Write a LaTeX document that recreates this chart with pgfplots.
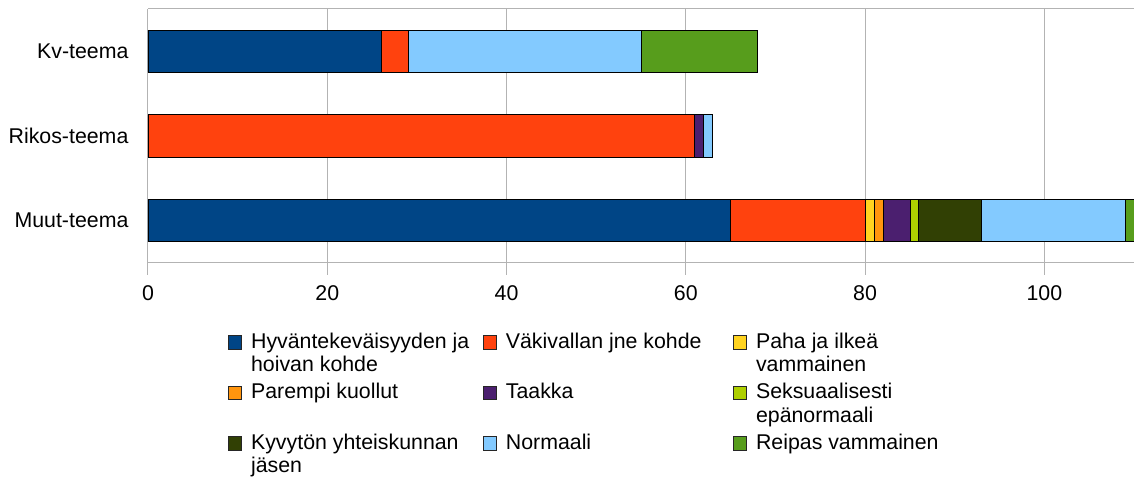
\documentclass[border=0pt]{standalone}
\usepackage{fontspec}
\setmainfont{Liberation Sans}
\usepackage{pgfplots}
\pgfplotsset{compat=1.18}
\definecolor{c1}{HTML}{004586}
\definecolor{c2}{HTML}{FF420E}
\definecolor{c3}{HTML}{FFD320}
\definecolor{c4}{HTML}{FF950E}
\definecolor{c5}{HTML}{4B1F6F}
\definecolor{c6}{HTML}{AECF00}
\definecolor{c7}{HTML}{314004}
\definecolor{c8}{HTML}{83CAFF}
\definecolor{c9}{HTML}{579D1C}
\definecolor{gridc}{HTML}{B3B3B3}
\newcommand{\lt}[2]{\parbox[t]{#1}{\raggedright #2}}
\begin{document}
\begin{tikzpicture}[font=\fontsize{16pt}{15.75pt}\selectfont]
\begin{axis}[
  scale only axis,
  width=739.5pt, height=190.5pt,
  xbar stacked,
  bar width=0.5,
  xmin=0, xmax=110,
  ymin=-0.5, ymax=2.5,
  axis lines*=left,
  axis line style={draw=gridc, line width=0.75pt},
  xtick={0,20,40,60,80,100},
  xmajorgrids,
  grid style={draw=gridc, line width=0.75pt},
  x tick style={draw=gridc, line width=0.75pt},
  tick align=outside,
  major tick length=9pt,
  ytick={0,1,2},
  yticklabels={Muut-teema,Rikos-teema,Kv-teema},
  y tick style={draw=none},
  extra y ticks={-0.5,0.5,1.5,2.5},
  extra y tick labels={},
  extra y tick style={draw=gridc, line width=0.75pt, grid=none, major tick length=8pt},
  /pgf/number format/assume math mode=true,
  xticklabel style={inner sep=0pt, anchor=north, yshift=-7.5pt},
  yticklabel style={inner sep=0pt, anchor=east, xshift=-5.5pt},
  every axis plot/.append style={draw=black, line width=0.6pt},
  legend columns=3,
  legend cell align=left,
  legend style={at={(rel axis cs:0.0811,-0.2757)}, anchor=north west, draw=none, fill=none,
    inner sep=0pt, outer sep=0pt, nodes={inner sep=0pt, text depth=}, cells={anchor=base west},
    column sep=6.75pt, row sep=4.2pt},
  legend image code/.code={\draw[#1, draw=black!85, line width=0.6pt] (0pt,-0.5pt) rectangle (10pt,9.5pt);},
]
\addplot[fill=c1] coordinates {(65,0) (0,1) (26,2)};
\addplot[fill=c2] coordinates {(15,0) (61,1) (3,2)};
\addplot[fill=c3] coordinates {(1,0) (0,1) (0,2)};
\addplot[fill=c4] coordinates {(1,0) (0,1) (0,2)};
\addplot[fill=c5] coordinates {(3,0) (1,1) (0,2)};
\addplot[fill=c6] coordinates {(1,0) (0,1) (0,2)};
\addplot[fill=c7] coordinates {(7,0) (0,1) (0,2)};
\addplot[fill=c8] coordinates {(16,0) (1,1) (26,2)};
\addplot[fill=c9] coordinates {(1,0) (0,1) (13,2)};
\addlegendentry{\lt{167pt}{\strut Hyväntekeväisyyden ja\\\strut hoivan kohde}}
\addlegendentry{\lt{163.5pt}{\strut Väkivallan jne kohde}}
\addlegendentry{\lt{150pt}{\strut Paha ja ilkeä\\\strut vammainen}}
\addlegendentry{\lt{167pt}{\strut Parempi kuollut}}
\addlegendentry{\lt{163.5pt}{\strut Taakka}}
\addlegendentry{\lt{150pt}{\strut Seksuaalisesti\\\strut epänormaali}}
\addlegendentry{\lt{167pt}{\strut Kyvytön yhteiskunnan\\\strut jäsen}}
\addlegendentry{\lt{163.5pt}{\strut Normaali}}
\addlegendentry{\lt{150pt}{\strut Reipas vammainen}}
\draw[draw=gridc, line width=0.75pt] (rel axis cs:0,1) -- (rel axis cs:1,1);
\coordinate (BBa) at (rel axis cs:-0.1501,-0.8425);
\coordinate (BBb) at (rel axis cs:1,1.0354);
\end{axis}
\pgfresetboundingbox
\path (BBa) rectangle (BBb);
\end{tikzpicture}
\end{document}
